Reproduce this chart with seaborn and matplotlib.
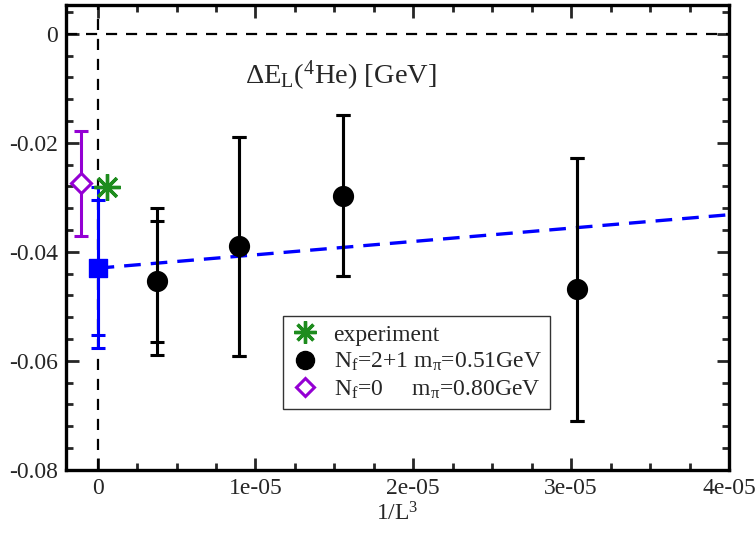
import numpy as np
import pandas as pd
import matplotlib
matplotlib.use('Agg')
import matplotlib.pyplot as plt
import seaborn as sns
from matplotlib.ticker import MultipleLocator
from matplotlib.lines import Line2D

# data
lat_x = [3.78e-6, 8.99e-6, 1.554e-5, 3.034e-5]
lat_y = [-0.0454, -0.0389, -0.0297, -0.0468]
lat_stat_lo = [-0.0565, -0.0591, -0.0444, -0.0710]
lat_stat_hi = [-0.0344, -0.0190, -0.0149, -0.0228]
lat_tot_lo = [-0.0589, -0.0591, -0.0444, -0.0710]
lat_tot_hi = [-0.0320, -0.0190, -0.0149, -0.0228]

extrap_x = [0.0]
extrap_y = [-0.0430]
extrap_stat = [-0.0552, -0.0305]
extrap_tot = [-0.0577, -0.0281]

quench_x = [-1.05e-6]
quench_y = [-0.0274]
quench_err = [-0.0371, -0.0179]

exp_x = [0.59e-6]
exp_y = [-0.0281]

fit_x = [0.0, 4e-5]
fit_y = [-0.0430, -0.0332]

sns.set_style('ticks')
plt.rcParams['font.family'] = ['Liberation Serif', 'DejaVu Serif']
plt.rcParams['mathtext.fontset'] = 'custom'
plt.rcParams['mathtext.rm'] = 'Liberation Serif'
plt.rcParams['mathtext.it'] = 'Liberation Serif:italic'

fig = plt.figure(figsize=(7.56, 5.34), dpi=100)
ax = fig.add_axes([0.0873, 0.12, 0.877, 0.871])

ax.axhline(0, color='black', ls=(0, (5, 4)), lw=1.6, zorder=1)
ax.axvline(0, color='black', ls=(0, (5, 4)), lw=1.6, zorder=1)

fit_df = pd.DataFrame({'x': fit_x, 'y': fit_y})
sns.lineplot(data=fit_df, x='x', y='y', ax=ax, color='#0000ff', lw=2.4,
             dashes=False, ls=(0, (5, 3)), zorder=2, legend=False)

lat = pd.DataFrame({'x': lat_x, 'y': lat_y})
lat_y_arr = np.array(lat_y)
for lo, hi in [(lat_tot_lo, lat_tot_hi), (lat_stat_lo, lat_stat_hi)]:
    ax.errorbar(lat_x, lat_y, yerr=[lat_y_arr - np.array(lo), np.array(hi) - lat_y_arr],
                fmt='none', ecolor='black', elinewidth=2.2, capsize=5, capthick=2.2, zorder=3)
sns.scatterplot(data=lat, x='x', y='y', ax=ax, color='black', marker='o', s=200,
                edgecolor='black', zorder=4, legend=False)

ey = extrap_y[0]
for lo, hi in [extrap_tot, extrap_stat]:
    ax.errorbar(extrap_x, extrap_y, yerr=[[ey - lo], [hi - ey]], fmt='none',
                ecolor='#0000ff', elinewidth=2.2, capsize=5, capthick=2.2, zorder=3)
sns.scatterplot(x=extrap_x, y=extrap_y, ax=ax, color='#0000ff', marker='s', s=150,
                edgecolor='#0000ff', zorder=4, legend=False)

qy = quench_y[0]
ax.errorbar(quench_x, quench_y, yerr=[[qy - quench_err[0]], [quench_err[1] - qy]], fmt='none',
            ecolor='#9400d3', elinewidth=2.2, capsize=5, capthick=2.2, zorder=3)
ax.plot(quench_x, quench_y, ls='none', marker='D', ms=10.5, mfc='white', mec='#9400d3',
        mew=2.2, zorder=4)

ax.plot(exp_x, exp_y, ls='none', marker=(8, 2, 0), ms=19, mec='#1e8c1e', mew=2.4, zorder=5)

ax.set_xlim(-2e-6, 4e-5)
ax.set_ylim(-0.08, 0.0053)
ax.xaxis.set_major_locator(MultipleLocator(1e-5))
ax.xaxis.set_minor_locator(MultipleLocator(0.25e-5))
ax.yaxis.set_major_locator(MultipleLocator(0.02))
ax.yaxis.set_minor_locator(MultipleLocator(0.004))
ax.set_xticks([0, 1e-5, 2e-5, 3e-5, 4e-5])
ax.set_xticklabels(['0', '1e-05', '2e-05', '3e-05', '4e-05'])
ax.set_yticks([-0.08, -0.06, -0.04, -0.02, 0])
ax.set_yticklabels(['-0.08', '-0.06', '-0.04', '-0.02', '0'])
ax.tick_params(which='both', direction='in', top=True, right=True, width=2, labelsize=17)
ax.tick_params(which='major', length=9, pad=6)
ax.tick_params(which='minor', length=5)
for s in ax.spines.values():
    s.set_linewidth(2.4)
    s.set_color('black')

ax.set_xlabel(r'1/L$^3$', fontsize=17, labelpad=2)
ax.set_ylabel('')
ax.text(0.415, 0.848, r'$\Delta$E$_\mathrm{L}$($^4$He) [GeV]', transform=ax.transAxes,
        ha='center', va='center', fontsize=20.5)

handles = [
    Line2D([], [], ls='none', marker=(8, 2, 0), ms=16, mec='#1e8c1e', mew=2.4),
    Line2D([], [], ls='none', marker='o', ms=13, mfc='black', mec='black'),
    Line2D([], [], ls='none', marker='D', ms=9, mfc='white', mec='#9400d3', mew=2.2),
]
labels = ['experiment',
          r'N$_\mathrm{f}$=2+1 m$_\mathrm{π}$=0.51GeV',
          r'N$_\mathrm{f}$=0     m$_\mathrm{π}$=0.80GeV']
leg = ax.legend(handles, labels, loc='lower left', bbox_to_anchor=(0.327, 0.131),
                borderaxespad=0, fontsize=17, frameon=True, fancybox=False,
                handletextpad=0.6, borderpad=0.35, labelspacing=0.22, handlelength=1.2)
leg.get_frame().set_edgecolor('black')
leg.get_frame().set_linewidth(1.0)

fig.savefig('out.png', dpi=100)
